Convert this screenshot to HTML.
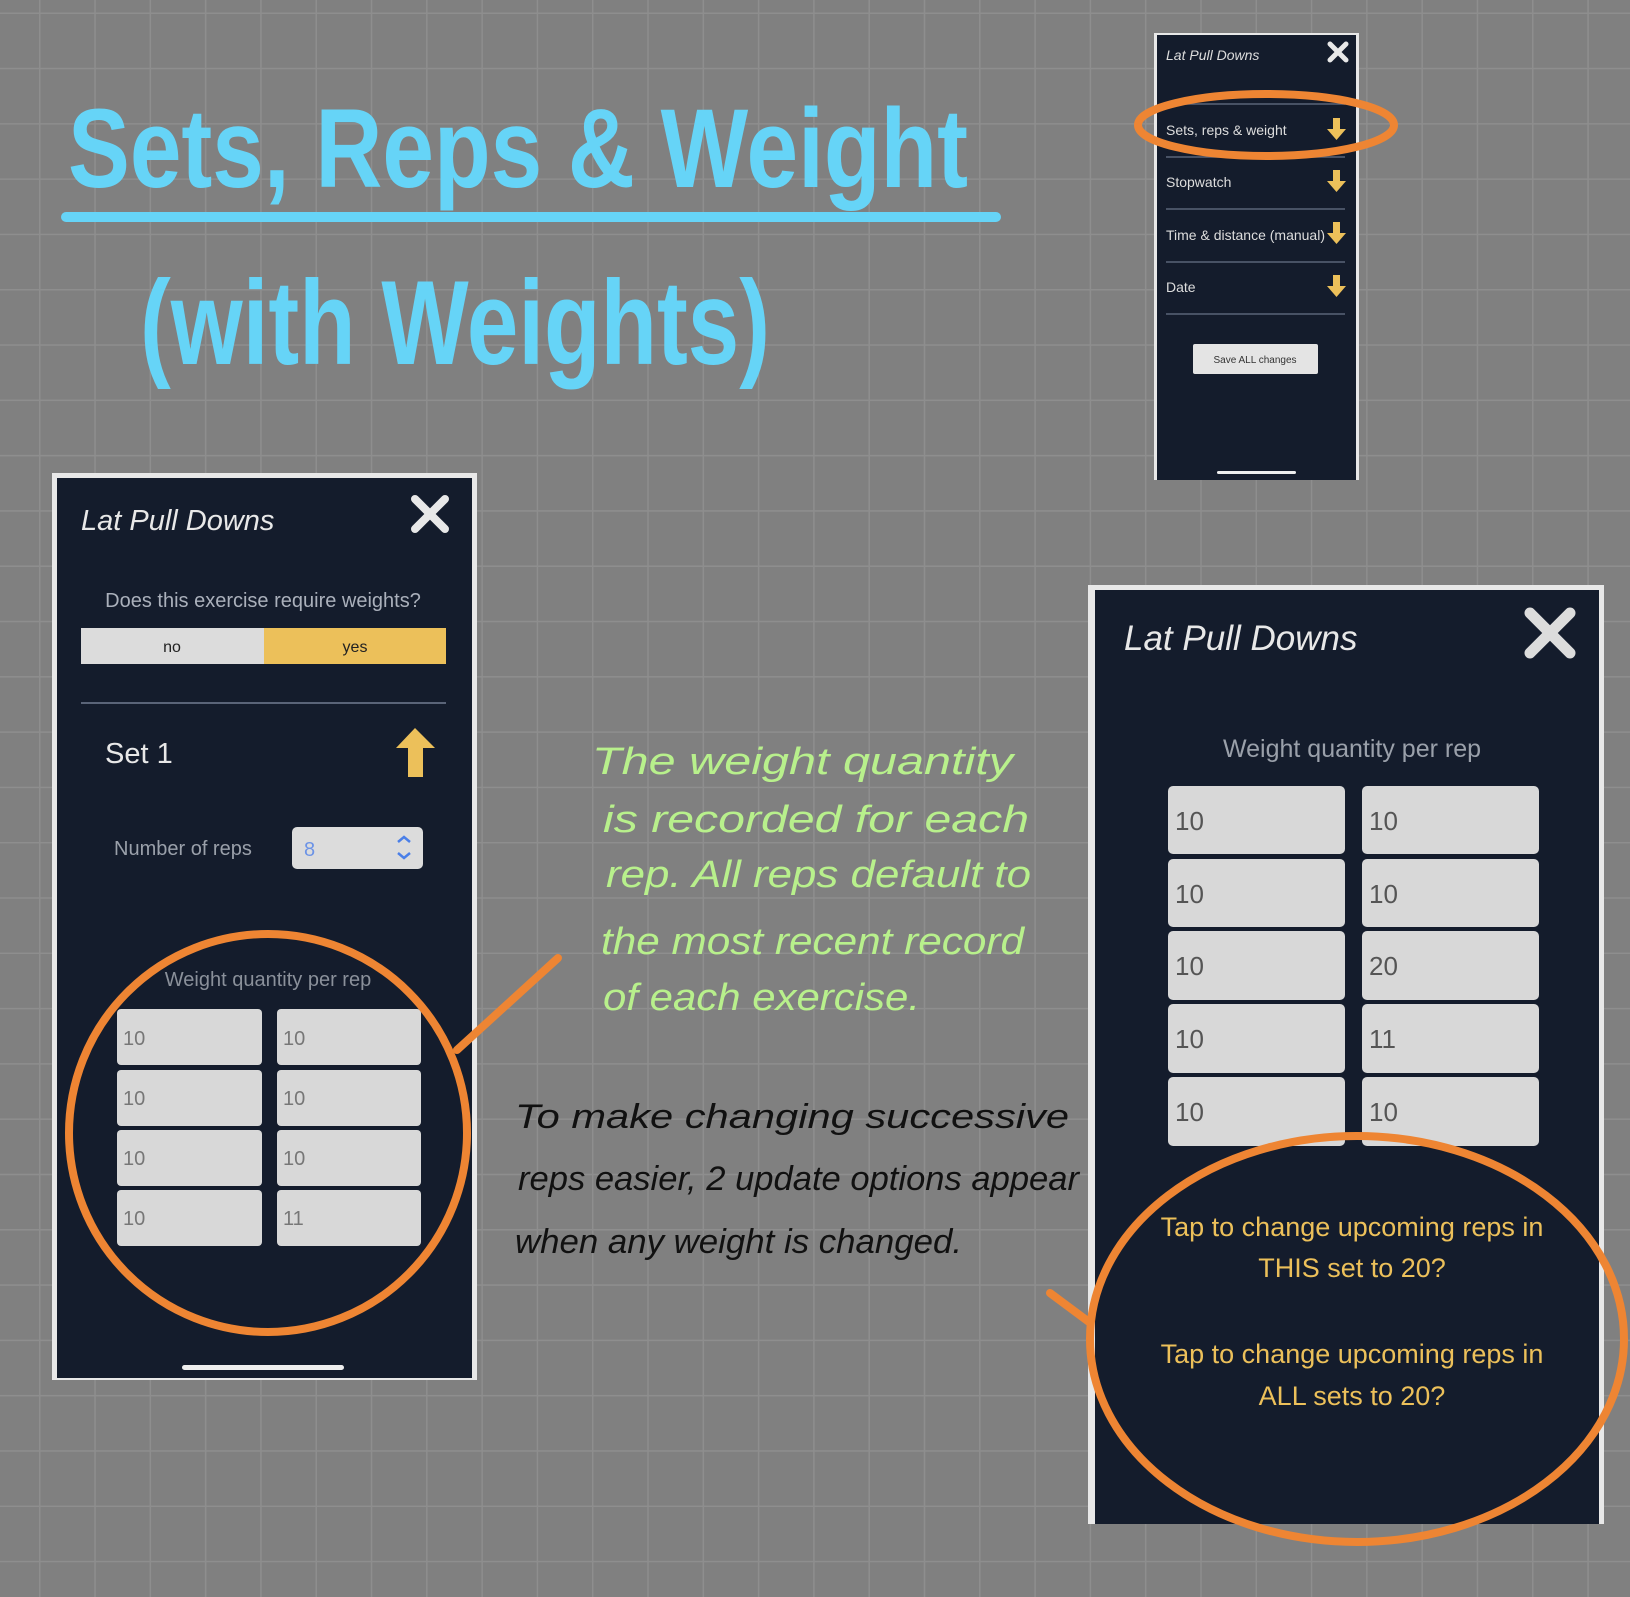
<!DOCTYPE html>
<html><head><meta charset="utf-8"><style>
html,body{margin:0;padding:0}
body{width:1630px;height:1597px;overflow:hidden;background:#808080;
background-image:linear-gradient(90deg,#8e8e8e 0,#8e8e8e 1.5px,transparent 1.5px),linear-gradient(0deg,#8e8e8e 0,#8e8e8e 1.5px,transparent 1.5px);
background-size:55.3px 55.3px;background-position:39px 14px}
svg{position:absolute;left:0;top:0}
</style></head><body>
<svg width="1630" height="1597" viewBox="0 0 1630 1597" font-family="'Liberation Sans',sans-serif">
<g fill="#66d4f7" font-weight="bold">
<text x="68" y="187" font-size="112" textLength="900" lengthAdjust="spacingAndGlyphs">Sets, Reps &amp; Weight</text>
<text x="140" y="364" font-size="120" textLength="630" lengthAdjust="spacingAndGlyphs">(with Weights)</text>
</g>
<line x1="66" y1="217" x2="996" y2="217" stroke="#66d4f7" stroke-width="10" stroke-linecap="round"/>

<rect x="1154" y="33" width="205" height="447" fill="#e8e8e8"/>
<rect x="1157" y="35" width="199" height="445" fill="#141c2c"/>
<text x="1166" y="60" font-size="14" font-style="italic" fill="#ddd">Lat Pull Downs</text>
<path d="M1330 44l16 16M1346 44l-16 16" stroke="#e8e8e8" stroke-width="5" stroke-linecap="round"/>
<g stroke="#5a6478" stroke-width="1.5">
<line x1="1166" y1="104" x2="1345" y2="104"/><line x1="1166" y1="157" x2="1345" y2="157"/>
<line x1="1166" y1="209" x2="1345" y2="209"/><line x1="1166" y1="262" x2="1345" y2="262"/>
<line x1="1166" y1="314" x2="1345" y2="314"/></g>
<g font-size="14" fill="#ddd">
<text x="1166" y="135">Sets, reps &amp; weight</text><text x="1166" y="187">Stopwatch</text>
<text x="1166" y="240">Time &amp; distance (manual)</text><text x="1166" y="292">Date</text></g>
<g fill="#ecc05a">
<path d="M1333 118h7v11h6l-9.5 11-9.5-11h6z"/><path d="M1333 170h7v11h6l-9.5 11-9.5-11h6z"/>
<path d="M1333 222h7v11h6l-9.5 11-9.5-11h6z"/><path d="M1333 275h7v11h6l-9.5 11-9.5-11h6z"/></g>
<rect x="1193" y="344" width="125" height="30" rx="2" fill="#e4e4e4"/>
<text x="1255" y="363" font-size="10" fill="#333" text-anchor="middle">Save ALL changes</text>
<rect x="1217" y="471" width="79" height="3" rx="1.5" fill="#eee"/>
<ellipse cx="1266" cy="125" rx="128" ry="31" fill="none" stroke="#ee8533" stroke-width="8"/>

<rect x="52" y="473" width="425" height="907" fill="#e8e8e8"/>
<rect x="57" y="478" width="415" height="900" fill="#141c2c"/>
<text x="81" y="530" font-size="29" font-style="italic" fill="#e8e8e8">Lat Pull Downs</text>
<path d="M415 499l30 30M445 499l-30 30" stroke="#e8e8e8" stroke-width="8" stroke-linecap="round"/>
<text x="263" y="607" font-size="20" fill="#aab0bb" text-anchor="middle">Does this exercise require weights?</text>
<rect x="81" y="628" width="183" height="36" fill="#dcdcdc"/>
<rect x="264" y="628" width="182" height="36" fill="#ecc05a"/>
<text x="172" y="652" font-size="16" fill="#222" text-anchor="middle">no</text>
<text x="355" y="652" font-size="16" fill="#222" text-anchor="middle">yes</text>
<line x1="81" y1="703" x2="446" y2="703" stroke="#5a6478" stroke-width="2"/>
<text x="105" y="763" font-size="29" fill="#e8e8e8">Set 1</text>
<path d="M415 728l20 20h-12v29h-15v-29h-12z" fill="#ecc05a"/>
<text x="114" y="855" font-size="20" fill="#9aa0aa">Number of reps</text>
<rect x="292" y="827" width="131" height="42" rx="5" fill="#dcdcdc"/>
<text x="304" y="856" font-size="20" fill="#6c93e6">8</text>
<path d="M398 842l6-5 6 5M398 853l6 5 6-5" stroke="#4a7fe8" stroke-width="2.5" fill="none"/>
<text x="268" y="986" font-size="20" fill="#8a909a" text-anchor="middle">Weight quantity per rep</text>
<g fill="#d8d8d8">
<rect x="117" y="1009" width="145" height="56" rx="4"/><rect x="277" y="1009" width="144" height="56" rx="4"/>
<rect x="117" y="1070" width="145" height="56" rx="4"/><rect x="277" y="1070" width="144" height="56" rx="4"/>
<rect x="117" y="1130" width="145" height="56" rx="4"/><rect x="277" y="1130" width="144" height="56" rx="4"/>
<rect x="117" y="1190" width="145" height="56" rx="4"/><rect x="277" y="1190" width="144" height="56" rx="4"/></g>
<g font-size="20" fill="#777">
<text x="123" y="1045">10</text><text x="283" y="1045">10</text>
<text x="123" y="1105">10</text><text x="283" y="1105">10</text>
<text x="123" y="1165">10</text><text x="283" y="1165">10</text>
<text x="123" y="1225">10</text><text x="283" y="1225">11</text></g>
<rect x="182" y="1365" width="162" height="5" rx="2.5" fill="#eee"/>
<circle cx="268" cy="1133" r="199" fill="none" stroke="#ee8533" stroke-width="8"/>
<line x1="457" y1="1050" x2="558" y2="958" stroke="#ee8533" stroke-width="8" stroke-linecap="round"/>

<rect x="1088" y="585" width="516" height="939" fill="#e8e8e8"/>
<rect x="1095" y="590" width="504" height="934" fill="#141c2c"/>
<text x="1124" y="650" font-size="35" font-style="italic" fill="#e8e8e8">Lat Pull Downs</text>
<path d="M1530 613l40 40M1570 613l-40 40" stroke="#dcdcdc" stroke-width="11" stroke-linecap="round"/>
<text x="1352" y="757" font-size="25" fill="#9aa0aa" text-anchor="middle">Weight quantity per rep</text>
<g fill="#d8d8d8">
<rect x="1168" y="786" width="177" height="68" rx="5"/><rect x="1362" y="786" width="177" height="68" rx="5"/>
<rect x="1168" y="859" width="177" height="68" rx="5"/><rect x="1362" y="859" width="177" height="68" rx="5"/>
<rect x="1168" y="931" width="177" height="69" rx="5"/><rect x="1362" y="931" width="177" height="69" rx="5"/>
<rect x="1168" y="1004" width="177" height="69" rx="5"/><rect x="1362" y="1004" width="177" height="69" rx="5"/>
<rect x="1168" y="1077" width="177" height="69" rx="5"/><rect x="1362" y="1077" width="177" height="69" rx="5"/></g>
<g font-size="26" fill="#555">
<text x="1175" y="830">10</text><text x="1369" y="830">10</text>
<text x="1175" y="903">10</text><text x="1369" y="903">10</text>
<text x="1175" y="975">10</text><text x="1369" y="975">20</text>
<text x="1175" y="1048">10</text><text x="1369" y="1048">11</text>
<text x="1175" y="1121">10</text><text x="1369" y="1121">10</text></g>
<g font-size="27" fill="#ecc05a" text-anchor="middle">
<text x="1352" y="1236">Tap to change upcoming reps in</text>
<text x="1352" y="1277">THIS set to 20?</text>
<text x="1352" y="1363">Tap to change upcoming reps in</text>
<text x="1352" y="1405">ALL sets to 20?</text></g>
<ellipse cx="1357" cy="1339" rx="267" ry="203" fill="none" stroke="#ee8533" stroke-width="8"/>
<line x1="1050" y1="1293" x2="1089" y2="1322" stroke="#ee8533" stroke-width="8" stroke-linecap="round"/>

<g fill="#b8f08c" font-size="38" font-style="italic">
<text x="592" y="774" textLength="421" lengthAdjust="spacingAndGlyphs">The weight quantity</text>
<text x="603" y="832" textLength="426" lengthAdjust="spacingAndGlyphs">is recorded for each</text>
<text x="606" y="887" textLength="425" lengthAdjust="spacingAndGlyphs">rep. All reps default to</text>
<text x="601" y="954" textLength="423" lengthAdjust="spacingAndGlyphs">the most recent record</text>
<text x="603" y="1010" textLength="317" lengthAdjust="spacingAndGlyphs">of each exercise.</text></g>
<g fill="#111" font-size="34" font-style="italic">
<text x="515" y="1128" textLength="554" lengthAdjust="spacingAndGlyphs">To make changing successive</text>
<text x="518" y="1190" textLength="561" lengthAdjust="spacingAndGlyphs">reps easier, 2 update options appear</text>
<text x="515" y="1253" textLength="447" lengthAdjust="spacingAndGlyphs">when any weight is changed.</text></g>
</svg>
</body></html>
